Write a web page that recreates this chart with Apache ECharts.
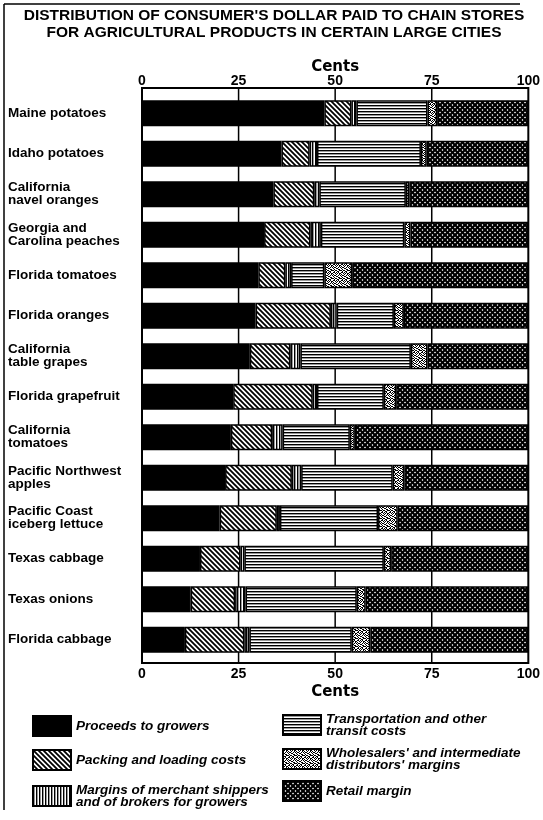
<!DOCTYPE html>
<html>
<head>
<meta charset="utf-8">
<script src="https://cdn.jsdelivr.net/npm/echarts@6/dist/echarts.min.js"></script>
<style>
  html, body { margin: 0; padding: 0; background: #fff; }
  #chart { width: 543px; height: 820px; }
</style>
</head>
<body>
<div id="chart"></div>
<script>
// categories, top to bottom
const products = [
  'Maine potatoes',
  'Idaho potatoes',
  'California\nnavel oranges',
  'Georgia and\nCarolina peaches',
  'Florida tomatoes',
  'Florida oranges',
  'California\ntable grapes',
  'Florida grapefruit',
  'California\ntomatoes',
  'Pacific Northwest\napples',
  'Pacific Coast\niceberg lettuce',
  'Texas cabbage',
  'Texas onions',
  'Florida cabbage'
];
// cents of the consumer's dollar
const growers      = [47.2, 36.1, 34.0, 31.6, 30.1, 29.4, 27.9, 23.6, 23.0, 21.5, 20.1, 15.0, 12.6, 11.1];
const packing      = [ 7.0,  7.3, 10.6, 12.0,  7.0, 19.5, 10.5, 20.6, 10.7, 17.3, 14.8, 10.5, 11.5, 15.4];
const shippers     = [ 1.3,  1.9,  1.3,  2.7,  1.5,  1.5,  2.6,  1.1,  2.7,  2.4,  0.8,  1.0,  2.7,  1.3];
const transport    = [18.4, 26.9, 22.4, 21.6,  8.6, 14.8, 28.6, 17.3, 17.4, 23.7, 25.4, 36.1, 28.8, 26.5];
const wholesalers  = [ 2.5,  1.5,  0.9,  1.6,  7.2,  2.6,  4.3,  3.2,  1.3,  3.0,  5.1,  1.9,  2.3,  4.8];
const retail       = [23.6, 26.3, 30.8, 30.5, 45.6, 32.2, 26.1, 34.2, 44.9, 32.1, 33.8, 35.5, 42.1, 40.9];
const centTicks = [0, 25, 50, 75, 100];

const names = [
  'Proceeds to growers',
  'Packing and loading costs',
  'Margins of merchant shippers and of brokers for growers',
  'Transportation and other transit costs',
  "Wholesalers' and intermediate distributors' margins",
  'Retail margin'
];
const legendText = {
  'Margins of merchant shippers and of brokers for growers': 'Margins of merchant shippers\nand of brokers for growers',
  'Transportation and other transit costs': 'Transportation and other\ntransit costs',
  "Wholesalers' and intermediate distributors' margins": "Wholesalers' and intermediate\ndistributors' margins"
};

// hatch patterns
function tile(w, h, draw) {
  const c = document.createElement('canvas');
  c.width = w; c.height = h;
  const g = c.getContext('2d');
  g.fillStyle = '#fff';
  g.fillRect(0, 0, w, h);
  g.fillStyle = '#000';
  g.strokeStyle = '#000';
  draw(g, w, h);
  return { image: c, repeat: 'repeat' };
}
function diag(g, n, dir) {
  g.beginPath();
  for (let k = -1; k <= 1; k++) {
    if (dir > 0) { g.moveTo(k * n - 1, -1); g.lineTo(k * n + n + 1, n + 1); }
    else { g.moveTo(k * n + n + 1, -1); g.lineTo(k * n - 1, n + 1); }
  }
  g.stroke();
}
const solid = '#000';
const slash = tile(5, 5, (g, w) => { g.lineWidth = 1.8; diag(g, w, 1); });
const vert = tile(3, 4, (g, w, h) => { g.fillRect(0, 0, 1.4, h); });
const horiz = tile(4, 3, (g, w) => { g.fillRect(0, 0, w, 1.4); });
const dots = tile(8, 8, (g) => {
  const bits = ['10100110', '01011001', '10010100', '00101011', '11000100', '00110010', '10011101', '01100010'];
  bits.forEach((row, y) => row.split('').forEach((b, x) => { if (b === '1') g.fillRect(x, y, 1, 1); }));
});
const cross = tile(5, 5, (g, w) => { g.lineWidth = 2.2; diag(g, w, 1); diag(g, w, -1); });

const fills = [solid, slash, vert, horiz, dots, cross];
const values = [growers, packing, shippers, transport, wholesalers, retail];

const myChart = echarts.init(document.getElementById('chart'));
const labelFont = { fontFamily: 'Liberation Sans', fontWeight: 'bold', color: '#000' };

myChart.setOption({
  animation: false,
  backgroundColor: '#fff',
  title: {
    text: "DISTRIBUTION OF CONSUMER'S DOLLAR PAID TO CHAIN STORES\nFOR AGRICULTURAL PRODUCTS IN CERTAIN LARGE CITIES",
    left: 269,
    top: 2,
    textAlign: 'center',
    textStyle: {
      fontFamily: 'Liberation Sans',
      fontWeight: 'bold',
      fontSize: 15.5,
      lineHeight: 17,
      color: '#000'
    }
  },
  grid: { left: 142, right: 11, top: 93, height: 567 },
  xAxis: [0, 1].map(i => ({
    type: 'value',
    position: i === 0 ? 'top' : 'bottom',
    min: 0,
    max: 100,
    interval: 25,
    name: 'Cents',
    nameLocation: 'middle',
    nameGap: i === 0 ? 18 : 25,
    nameMoveOverlap: false,
    nameTextStyle: { fontSize: 15, fontFamily: 'DejaVu Sans', fontWeight: 'bold', color: '#000' },
    axisLine: { show: false },
    axisTick: { show: false },
    splitLine: { show: false },
    axisLabel: Object.assign({ fontSize: 14, margin: i === 0 ? 5 : 7, customValues: centTicks }, labelFont)
  })),
  yAxis: {
    type: 'category',
    inverse: true,
    data: products,
    axisLine: { show: false },
    axisTick: { show: false },
    axisLabel: Object.assign({ fontSize: 13.5, lineHeight: 13, align: 'left', margin: 134 }, labelFont)
  },
  legend: [
    { data: names.slice(0, 3), left: 32, top: 715, itemGap: 12 },
    { data: names.slice(3), left: 282, top: 712, itemGap: 8 }
  ].map(l => Object.assign(l, {
    orient: 'vertical',
    padding: 0,
    icon: 'rect',
    itemWidth: 38,
    itemHeight: 20,
    selectedMode: false,
    formatter: n => legendText[n] || n,
    textStyle: {
      fontFamily: 'Liberation Sans',
      fontStyle: 'italic',
      fontWeight: 'bold',
      fontSize: 13.5,
      lineHeight: 12,
      color: '#000'
    }
  })),
  series: names.map((n, i) => ({
    name: n,
    type: 'bar',
    stack: 'cents',
    barWidth: 26,
    itemStyle: { color: fills[i], borderColor: '#000', borderWidth: 1.5 },
    emphasis: { disabled: true },
    data: values[i]
  }))
});

// frame and 25/50/75 guide lines, placed through the axis scale
const fTop = 88, fBottom = 663;
const px = v => myChart.convertToPixel({ xAxisIndex: 0 }, v);
const guides = [25, 50, 75].map(v => ({
  type: 'line', z: 0,
  shape: { x1: px(v), y1: fTop, x2: px(v), y2: fBottom },
  style: { stroke: '#000', lineWidth: 1.5 }
}));
myChart.setOption({
  graphic: guides.concat([
    {
      type: 'rect', z: 100,
      shape: { x: px(0), y: fTop, width: px(100) - px(0), height: fBottom - fTop },
      style: { fill: null, stroke: '#000', lineWidth: 2 }
    },
    { type: 'line', shape: { x1: 4, y1: 4, x2: 4, y2: 810 }, style: { stroke: '#000', lineWidth: 1.5 } },
    { type: 'line', shape: { x1: 4, y1: 4, x2: 520, y2: 4 }, style: { stroke: '#000', lineWidth: 1.5 } }
  ])
});
</script>
</body>
</html>
